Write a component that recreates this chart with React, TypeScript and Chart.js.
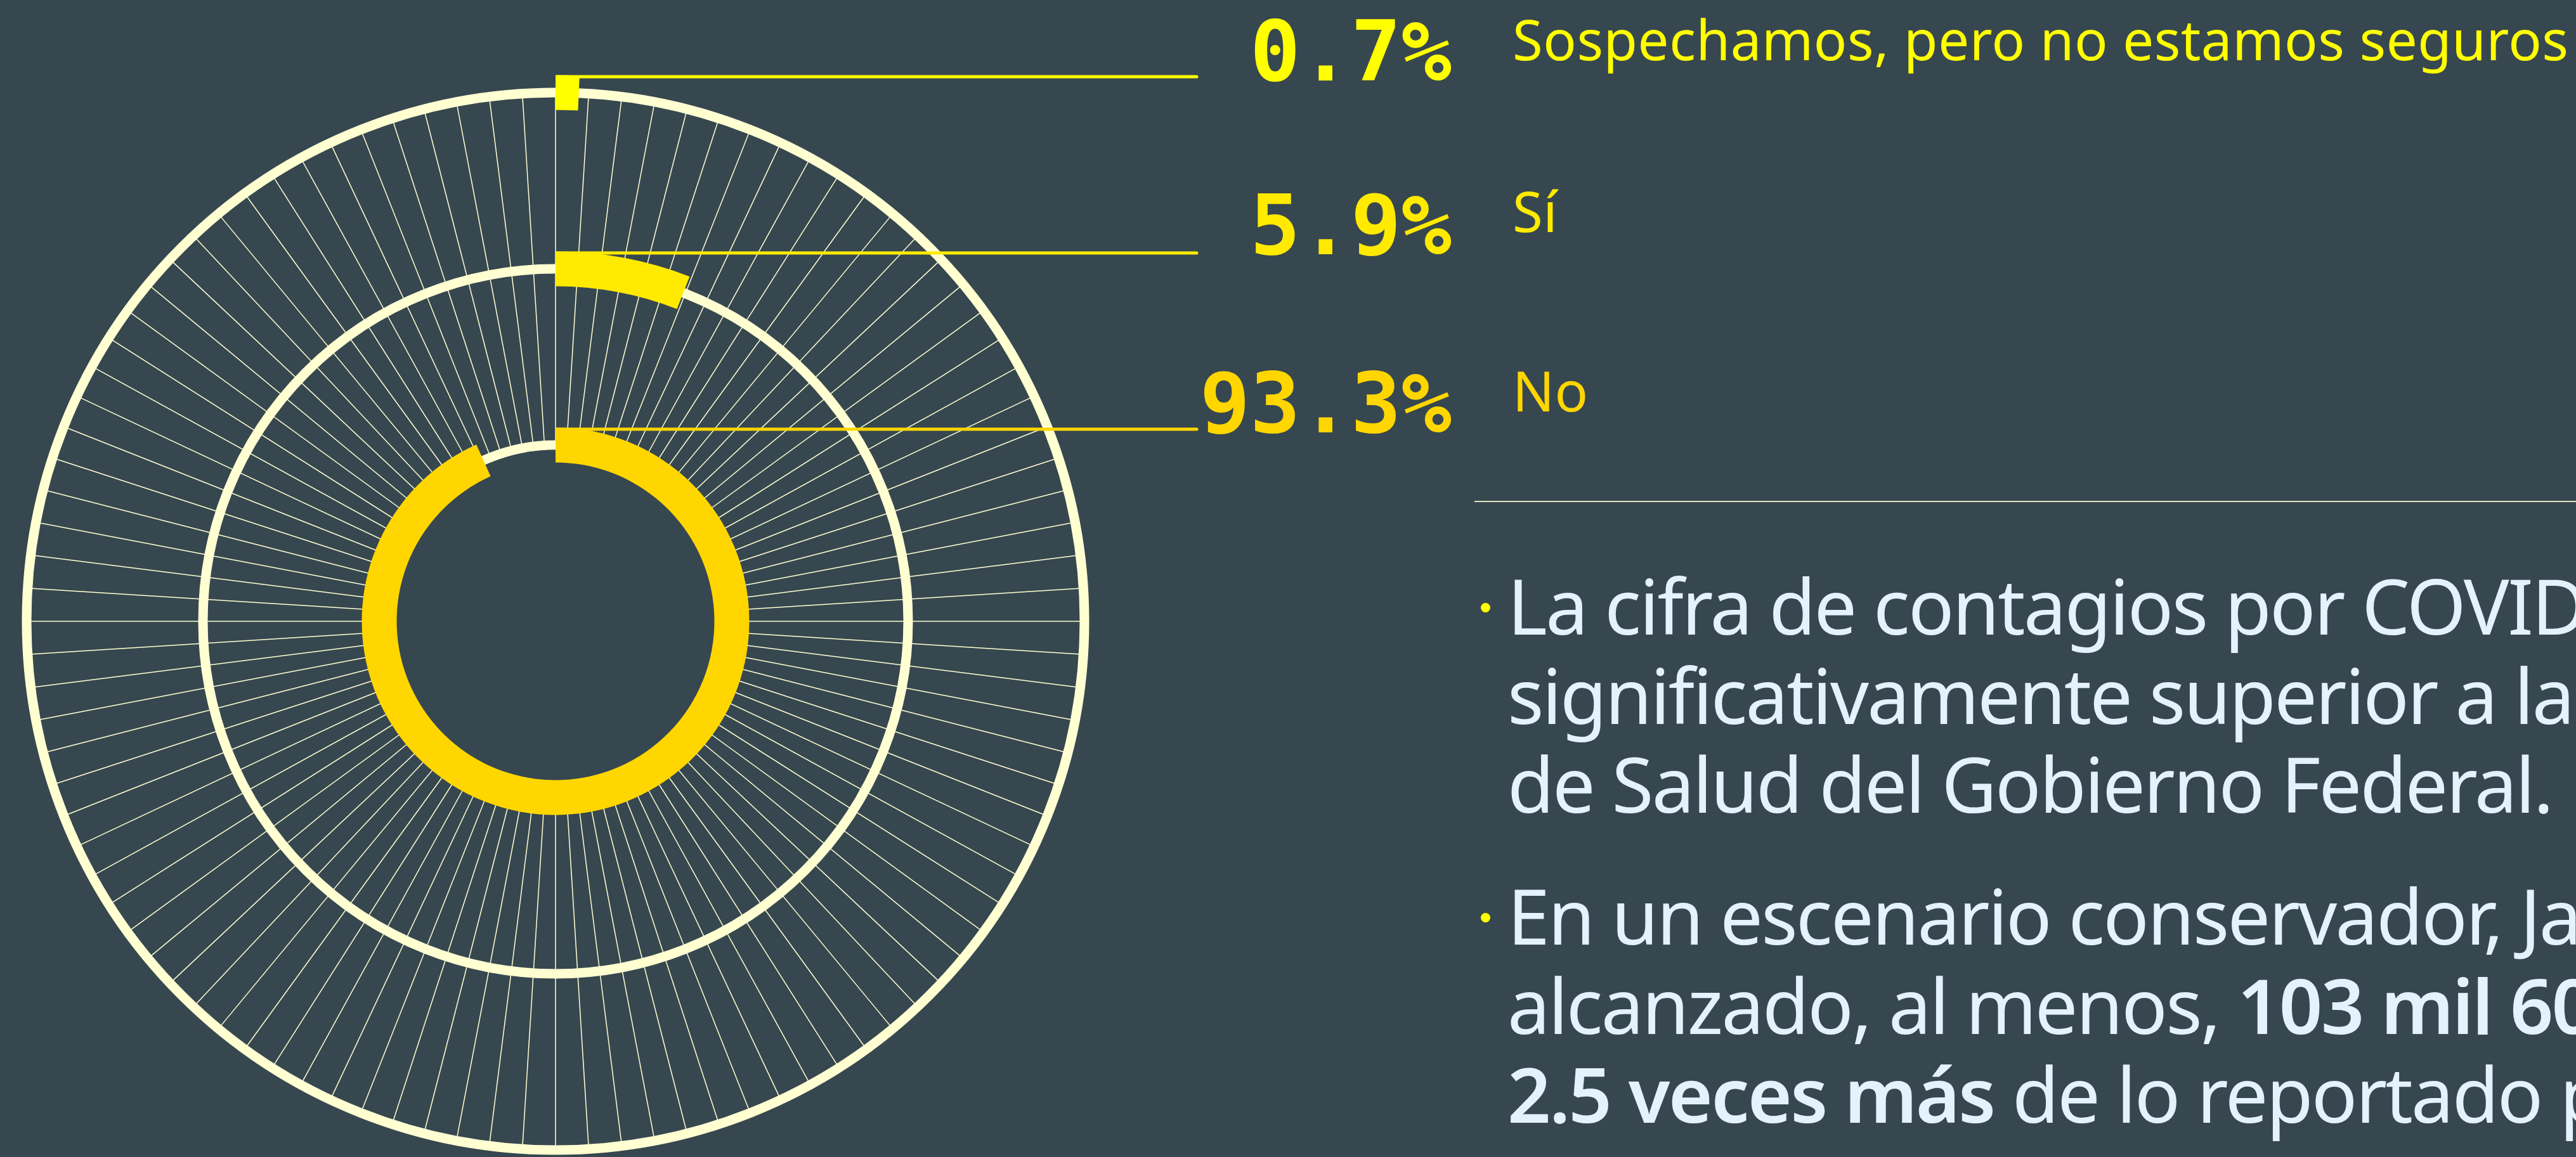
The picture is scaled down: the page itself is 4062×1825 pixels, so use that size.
import React, { useEffect, useRef } from 'react';
import { Chart, registerables } from 'chart.js';

Chart.register(...registerables);

// ---------------- data ----------------
const categories = ['Sospechamos, pero no estamos seguros', 'Sí', 'No'];
const shares = [0.7, 5.9, 93.3];
// one spoke per percentage point around the dial
const spokeTicks = Array.from({ length: 100 }, (_, i) => `${i}%`);
const noteLines1 = [
  'La cifra de contagios por COVID-19 en Jalisco es',
  'significativamente superior a la difundida por la Secretaría',
  'de Salud del Gobierno Federal.',
];
const noteLines2 = [
  [{ t: 'En un escenario conservador, Jalisco podría haber', b: false }],
  [{ t: 'alcanzado, al menos, ', b: false }, { t: '103 mil 600 contagios,', b: true }],
  [{ t: '2.5 veces más', b: true }, { t: ' de lo reportado por la Secretaría de Salud.', b: false }],
];

// ---------------- style / layout ----------------
const BG = '#37474F';
const CREAM = '#FFFFD2';
const TEXT = '#E3F2FD';
const answerColors = ['#FFFF00', '#FFEA00', '#FFD600'];
const ANSWER_RING = [3, 2, 1];
const ARC_WIDTH = 55;
const RING_WIDTH = 15;
const LEADER_WIDTH = 5;
const LEADER_END = 1887;
const CANVAS_W = 1900;
const CANVAS_H = 1825;

const PCT_FONT = 132;
const PCT_RIGHT = 2289;
const PCT_BASE = [126.7, 401, 681.7];
const LBL_FONT = 87;
const LBL_LEFT = 2385;
const LBL_BASE = [95, 366, 649];
const BODY_FONT = 120;
const BODY_LH = 140.8;
const BODY_LEFT = 2377;
const P1_BASE = 1001.7;
const P2_BASE = 1490.7;

const SANS = '"Noto Sans", "Open Sans", sans-serif';
const MONO = '"DejaVu Sans Mono", "Liberation Mono", monospace';

let measureCtx: CanvasRenderingContext2D | null = null;
function textWidth(text: string, font: string): number {
  if (!measureCtx) measureCtx = document.createElement('canvas').getContext('2d');
  if (!measureCtx) return 0;
  measureCtx.font = font;
  return measureCtx.measureText(text).width;
}

function band(chart: any, i: number) {
  const s = chart.scales.r;
  const mid = s.getDistanceFromCenterForValue(ANSWER_RING[i]);
  const outer = mid + ARC_WIDTH / 2;
  const n = chart.data.datasets.length;
  const R = outer + ARC_WIDTH * i;
  const c = 1 - (ARC_WIDTH * n) / R;
  return { radius: R, cutout: `${c * 100}%` };
}

const centerMask = {
  id: 'centerMask',
  beforeDatasetsDraw(chart: any) {
    const s = chart.scales.r;
    const r = s.getDistanceFromCenterForValue(1) - RING_WIDTH / 2;
    const ctx = chart.ctx;
    ctx.save();
    ctx.fillStyle = BG;
    ctx.beginPath();
    ctx.arc(s.xCenter, s.yCenter, r, 0, Math.PI * 2);
    ctx.fill();
    ctx.restore();
  },
};

const leaderLines = {
  id: 'leaderLines',
  afterDatasetsDraw(chart: any) {
    const ctx = chart.ctx;
    chart.data.datasets.forEach((_ds: any, i: number) => {
      const arc = chart.getDatasetMeta(i).data[0];
      if (!arc) return;
      const { x, y, outerRadius } = arc.getProps(['x', 'y', 'outerRadius'], true);
      const ly = y - outerRadius + LEADER_WIDTH / 2;
      ctx.save();
      ctx.strokeStyle = answerColors[i];
      ctx.lineWidth = LEADER_WIDTH;
      ctx.lineCap = 'round';
      ctx.beginPath();
      ctx.moveTo(x + LEADER_WIDTH / 2, ly);
      ctx.lineTo(LEADER_END, ly);
      ctx.stroke();
      ctx.restore();
    });
  },
};

export default function App() {
  const ref = useRef<HTMLCanvasElement>(null);

  useEffect(() => {
    if (!ref.current) return;
    const chart = new Chart(ref.current, {
      type: 'radar',
      data: {
        labels: spokeTicks,
        datasets: categories.map((cat, i) => ({
          type: 'doughnut',
          label: cat,
          data: [shares[i], 100 - shares[i]],
          backgroundColor: [answerColors[i], 'rgba(0,0,0,0)'],
          borderWidth: 0,
          clip: false,
          radius: (ctx: any) => band(ctx.chart, ctx.datasetIndex).radius,
          cutout: (ctx: any) => band(ctx.chart, ctx.datasetIndex).cutout,
        })) as any,
      },
      options: {
        responsive: false,
        animation: false,
        events: [],
        layout: { padding: { left: 42, right: CANVAS_W - 1710, top: 146, bottom: CANVAS_H - 1814 } },
        plugins: { legend: { display: false }, tooltip: { enabled: false } },
        scales: {
          r: {
            min: 0,
            max: 3,
            startAngle: 0,
            ticks: { display: false, stepSize: 1 },
            pointLabels: { display: false },
            grid: { circular: true, color: CREAM, lineWidth: RING_WIDTH },
            angleLines: { display: true, color: CREAM, lineWidth: 1.5 },
          },
        },
      } as any,
      plugins: [centerMask, leaderLines],
    });
    return () => chart.destroy();
  }, []);

  const lblFont = `400 ${LBL_FONT}px ${SANS}`;
  const lblSpacing = (1665 - textWidth(categories[0], lblFont)) / (categories[0].length - 1);
  const bodyFont = `400 ${BODY_FONT}px ${SANS}`;
  const bodySpacing = (1650 - textWidth(noteLines1[2], bodyFont)) / (noteLines1[2].length - 1);

  const bodyOffset = (BODY_LH - 1.362 * BODY_FONT) / 2 + 1.069 * BODY_FONT;

  return (
    <div
      style={{
        position: 'fixed',
        left: 0,
        top: 0,
        width: 4062,
        height: 1825,
        overflow: 'hidden',
        background: BG,
      }}
    >
      <canvas
        ref={ref}
        width={CANVAS_W}
        height={CANVAS_H}
        style={{ position: 'absolute', left: 0, top: 0, width: CANVAS_W, height: CANVAS_H }}
      />
      {shares.map((v, i) => (
        <div
          key={`p${i}`}
          style={{
            position: 'absolute',
            right: 4062 - PCT_RIGHT,
            top: PCT_BASE[i] - 0.846 * PCT_FONT,
            fontFamily: MONO,
            fontWeight: 700,
            fontSize: PCT_FONT,
            lineHeight: `${PCT_FONT}px`,
            color: answerColors[i],
            whiteSpace: 'nowrap',
            fontFeatureSettings: '"zero" 1',
          }}
        >
          {`${v.toFixed(1)}%`}
        </div>
      ))}
      {categories.map((c, i) => (
        <div
          key={`l${i}`}
          style={{
            position: 'absolute',
            left: LBL_LEFT,
            top: LBL_BASE[i] - 0.888 * LBL_FONT,
            fontFamily: SANS,
            fontSize: LBL_FONT,
            lineHeight: `${LBL_FONT}px`,
            letterSpacing: `${lblSpacing}px`,
            color: answerColors[i],
            whiteSpace: 'nowrap',
          }}
        >
          {c}
        </div>
      ))}
      <div
        style={{
          position: 'absolute',
          left: 2325,
          top: 790,
          width: 4062 - 2325,
          height: 2,
          background: 'rgba(255,255,210,0.85)',
        }}
      />
      {[P1_BASE, P2_BASE].map((b, k) => (
        <div
          key={`b${k}`}
          style={{
            position: 'absolute',
            left: 2342.7 - 7.5,
            top: b - 43 - 7.5,
            width: 15,
            height: 15,
            borderRadius: '50%',
            background: '#FFFF00',
          }}
        />
      ))}
      <div
        style={{
          position: 'absolute',
          left: BODY_LEFT,
          top: P1_BASE - bodyOffset,
          fontFamily: SANS,
          fontSize: BODY_FONT,
          lineHeight: `${BODY_LH}px`,
          letterSpacing: `${bodySpacing}px`,
          color: TEXT,
          whiteSpace: 'nowrap',
        }}
      >
        {noteLines1.map((l, i) => (
          <div key={i}>{l}</div>
        ))}
      </div>
      <div
        style={{
          position: 'absolute',
          left: BODY_LEFT,
          top: P2_BASE - bodyOffset,
          fontFamily: SANS,
          fontSize: BODY_FONT,
          lineHeight: `${BODY_LH}px`,
          letterSpacing: `${bodySpacing}px`,
          color: TEXT,
          whiteSpace: 'nowrap',
        }}
      >
        {noteLines2.map((segs, i) => (
          <div key={i}>
            {segs.map((s, j) => (
              <span key={j} style={{ fontWeight: s.b ? 600 : 400 }}>
                {s.t}
              </span>
            ))}
          </div>
        ))}
      </div>
    </div>
  );
}
